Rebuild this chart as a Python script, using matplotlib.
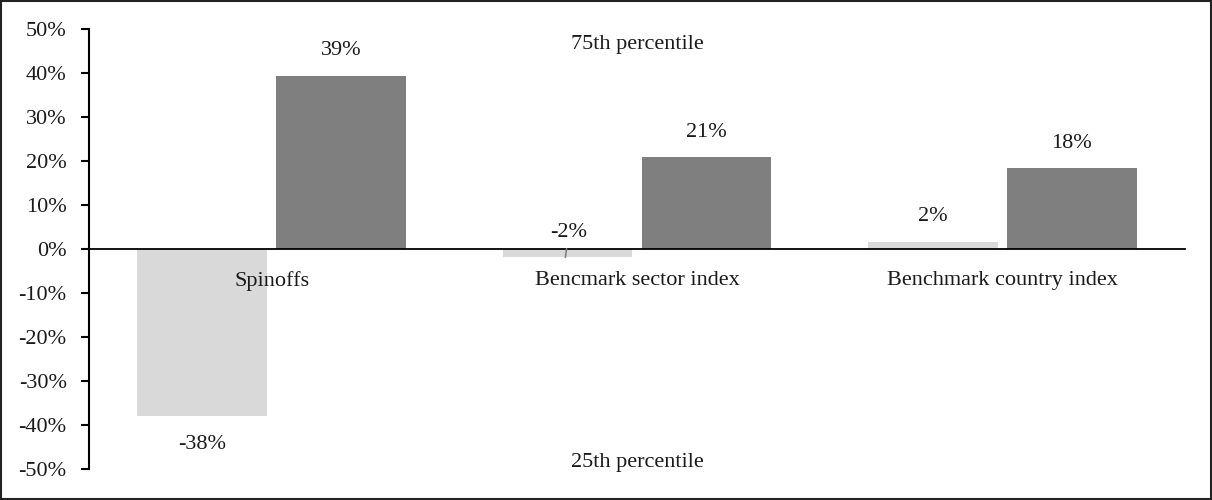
import matplotlib.pyplot as plt
import numpy as np
from matplotlib.ticker import FuncFormatter

plt.rcParams['font.family'] = ['Liberation Serif', 'DejaVu Serif']

# Data
categories = ["Spinoffs", "Bencmark sector index", "Benchmark country index"]
series_names = ["25th percentile", "75th percentile"]
p25 = [-0.379, -0.019, 0.016]
p75 = [0.394, 0.209, 0.183]
colors = ['#D9D9D9', '#7F7F7F']
text_color = '#1a1a1a'
fs = 16

fig = plt.figure(figsize=(12.12, 5.0), dpi=100)
ax = fig.add_axes([0.0734, 0.062, 0.9043, 0.880])

x = np.arange(len(categories))
width = 0.355
offset = 0.19

ax.bar(x - offset, p25, width, color=colors[0], zorder=1)
ax.bar(x + offset, p75, width, color=colors[1], zorder=1)

# Data labels: outside the bar end, the small negative one sits above the axis with a leader line
for xi, v in zip(x - offset, p25):
    label = f"{v * 100:.0f}%"
    if v < -0.05:
        ax.annotate(label, (xi, v), xytext=(0, -21), textcoords='offset points',
                    ha='center', va='center', fontsize=fs, color=text_color)
    elif v < 0:
        ax.annotate(label, (xi - 0.006, v), xytext=(2.5, 18), textcoords='offset points',
                    ha='center', va='center', fontsize=fs, color=text_color,
                    arrowprops=dict(arrowstyle='-', color='#808080', lw=1.2,
                                    shrinkA=3, shrinkB=0))
    else:
        ax.annotate(label, (xi, v), xytext=(0, 18), textcoords='offset points',
                    ha='center', va='center', fontsize=fs, color=text_color)

for xi, v in zip(x + offset, p75):
    ax.annotate(f"{v * 100:.0f}%", (xi, v), xytext=(0, 18), textcoords='offset points',
                ha='center', va='center', fontsize=fs, color=text_color)

# Series names
ax.text(1.0, 0.465, series_names[1], ha='center', va='center', fontsize=fs, color=text_color)
ax.text(1.0, -0.485, series_names[0], ha='center', va='center', fontsize=fs, color=text_color)

ax.set_xlim(-0.5, 2.5)
ax.set_ylim(-0.5, 0.5)
ax.set_yticks(np.arange(-0.5, 0.51, 0.1))
ax.yaxis.set_major_formatter(FuncFormatter(lambda v, pos: f"{round(v * 100):d}%"))

ax.spines['top'].set_visible(False)
ax.spines['right'].set_visible(False)
ax.spines['bottom'].set_position(('data', 0))
ax.spines['left'].set_linewidth(1.5)
ax.spines['bottom'].set_linewidth(1.3)

ax.set_xticks(x)
ax.set_xticklabels(categories)
ax.tick_params(axis='x', length=0, pad=16, labelsize=fs, labelcolor=text_color)
ax.tick_params(axis='y', length=6, width=1.5, direction='out', pad=10,
               labelsize=fs, labelcolor=text_color)

# Outer frame
fig.patches.append(plt.Rectangle((0.001, 0.002), 0.998, 0.996, transform=fig.transFigure,
                                 fill=False, edgecolor='#222222', lw=1.5))

plt.savefig('out.png', dpi=100)
